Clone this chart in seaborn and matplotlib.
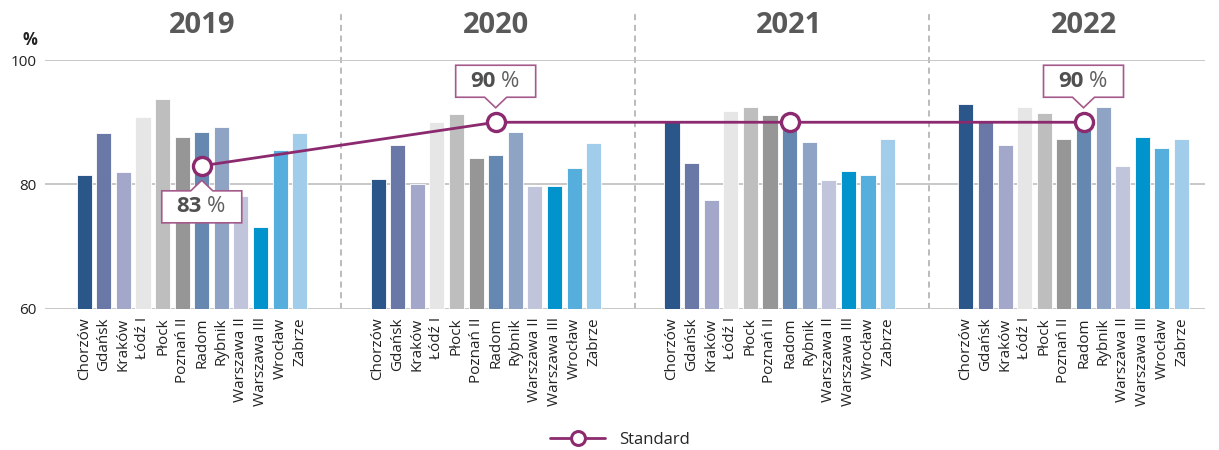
import matplotlib
matplotlib.use("Agg")
import matplotlib.pyplot as plt
import matplotlib.transforms as mtransforms
from matplotlib.patches import Polygon
from matplotlib.lines import Line2D
import pandas as pd
import seaborn as sns

years = ["2019", "2020", "2021", "2022"]
stations = ["Chorzów", "Gdańsk", "Kraków", "Łódź I", "Płock", "Poznań II",
            "Radom", "Rybnik", "Warszawa II", "Warszawa III", "Wrocław", "Zabrze"]
values_2019 = [81.6, 88.2, 82.0, 90.8, 93.8, 87.7, 88.5, 89.3, 78.2, 73.2, 85.5, 88.3]
values_2020 = [80.9, 86.3, 80.1, 90.1, 91.4, 84.2, 84.8, 88.4, 79.7, 79.7, 82.6, 86.7]
values_2021 = [90.2, 83.4, 77.5, 91.8, 92.5, 91.1, 89.8, 86.8, 80.7, 82.1, 81.5, 87.3]
values_2022 = [92.9, 90.0, 86.3, 92.4, 91.5, 87.3, 89.0, 92.4, 82.9, 87.6, 85.8, 87.3]
standard = [83, 90, 90, 90]
palette = ["#2B5689", "#6A78A8", "#A3A8CA", "#E6E6E6", "#BEBEBE", "#969696",
           "#6688B0", "#8FA3C5", "#C0C5DC", "#0093CC", "#55AEDB", "#A2CDEA"]

PURPLE = "#8B2A6E"
GAP = 3  # empty slots between year groups

all_values = [values_2019, values_2020, values_2021, values_2022]
rows = []
order = []
for g, (yr, vals) in enumerate(zip(years, all_values)):
    for st, v in zip(stations, vals):
        rows.append({"slot": f"{yr}|{st}", "station": st, "value": v})
        order.append(f"{yr}|{st}")
    if g < len(years) - 1:
        order += [f"gap{g}_{k}" for k in range(GAP)]
df = pd.DataFrame(rows)

sns.set_style("white")
plt.rcParams["font.family"] = ["Open Sans", "DejaVu Sans"]

fig = plt.figure(figsize=(12.19, 4.5), dpi=100)
ax = fig.add_axes([45 / 1219, 141 / 450, 1160 / 1219, 249 / 450])

sns.barplot(data=df, x="slot", y="value", hue="station", order=order,
            hue_order=stations, palette=dict(zip(stations, palette)),
            saturation=1, dodge=False, width=0.77, legend=False, ax=ax,
            edgecolor="white", linewidth=0.6)

# standard line through Radom positions
std_x = [order.index(f"{yr}|Radom") for yr in years]
ax.plot(std_x, standard, color=PURPLE, lw=2, marker="o", markersize=13,
        markerfacecolor="white", markeredgecolor=PURPLE, markeredgewidth=2.4,
        zorder=5, clip_on=False)

ax.set_ylim(60, 100)
ax.set_xlim(-2, len(order) + 0.2)
ax.set_yticks([60, 80, 100])
ax.set_yticklabels(["60", "80", "100"], fontsize=11, color="#222222")
ax.set_xticks([order.index(s) for s in df["slot"]])
ax.set_xticklabels(df["station"], rotation=90, fontsize=11, color="#222222")
ax.tick_params(axis="both", length=0)
ax.tick_params(axis="x", pad=6)
ax.tick_params(axis="y", pad=6)
ax.set_xlabel("")
ax.set_ylabel("")
for sp in ax.spines.values():
    sp.set_visible(False)
ax.yaxis.grid(True, color="#C8C8C8", lw=1.4)
ax.set_axisbelow(True)

# dashed separators between years
for g in range(len(years) - 1):
    last = order.index(f"{years[g]}|Zabrze")
    first = order.index(f"{years[g + 1]}|Chorzów")
    ax.axvline((last + first) / 2 + 0.1, ymin=0, ymax=1.19, color="#A8A8A8",
               lw=1.1, ls=(0, (4, 3)), clip_on=False, zorder=0)

# year titles
for yr, x in zip(years, std_x):
    ax.text(x, 105.5, yr, ha="center", va="center", fontsize=21,
            fontweight="bold", color="#595959", clip_on=False)

fig.text(30 / 1219, 1 - 40 / 450, "%", ha="center", va="center",
         fontsize=12, fontweight="bold", color="#222222")


def callout(x, y, num, above):
    trans = fig.dpi_scale_trans + mtransforms.ScaledTranslation(x, y, ax.transData)
    s = 1 if above else -1
    b, t, tip = 0.25 * s, 0.57 * s, 0.145 * s
    pts = [(-0.4, b), (-0.11, b), (0, tip), (0.11, b), (0.4, b), (0.4, t), (-0.4, t)]
    ax.add_patch(Polygon(pts, closed=True, transform=trans, facecolor="white",
                         edgecolor="#A45A8A", lw=1.2, zorder=6, clip_on=False))
    ty = (b + t) / 2
    ax.text(0.0, ty, str(num), transform=trans, ha="right", va="center",
            fontsize=16, fontweight="bold", color="#505050", zorder=7)
    ax.text(0.05, ty, "%", transform=trans, ha="left", va="center",
            fontsize=16, color="#606060", zorder=7)


callout(std_x[0], standard[0], standard[0], above=False)
callout(std_x[1], standard[1], standard[1], above=True)
callout(std_x[3], standard[3], standard[3], above=True)

handle = Line2D([], [], color=PURPLE, lw=2, marker="o", markersize=10,
                markerfacecolor="white", markeredgecolor=PURPLE, markeredgewidth=2.2)
fig.legend([handle], ["Standard"], loc="center", bbox_to_anchor=(620 / 1219, 1 - 440 / 450),
           frameon=False, fontsize=12, handlelength=3.3, handletextpad=0.8)

fig.savefig("out.png", dpi=100)
